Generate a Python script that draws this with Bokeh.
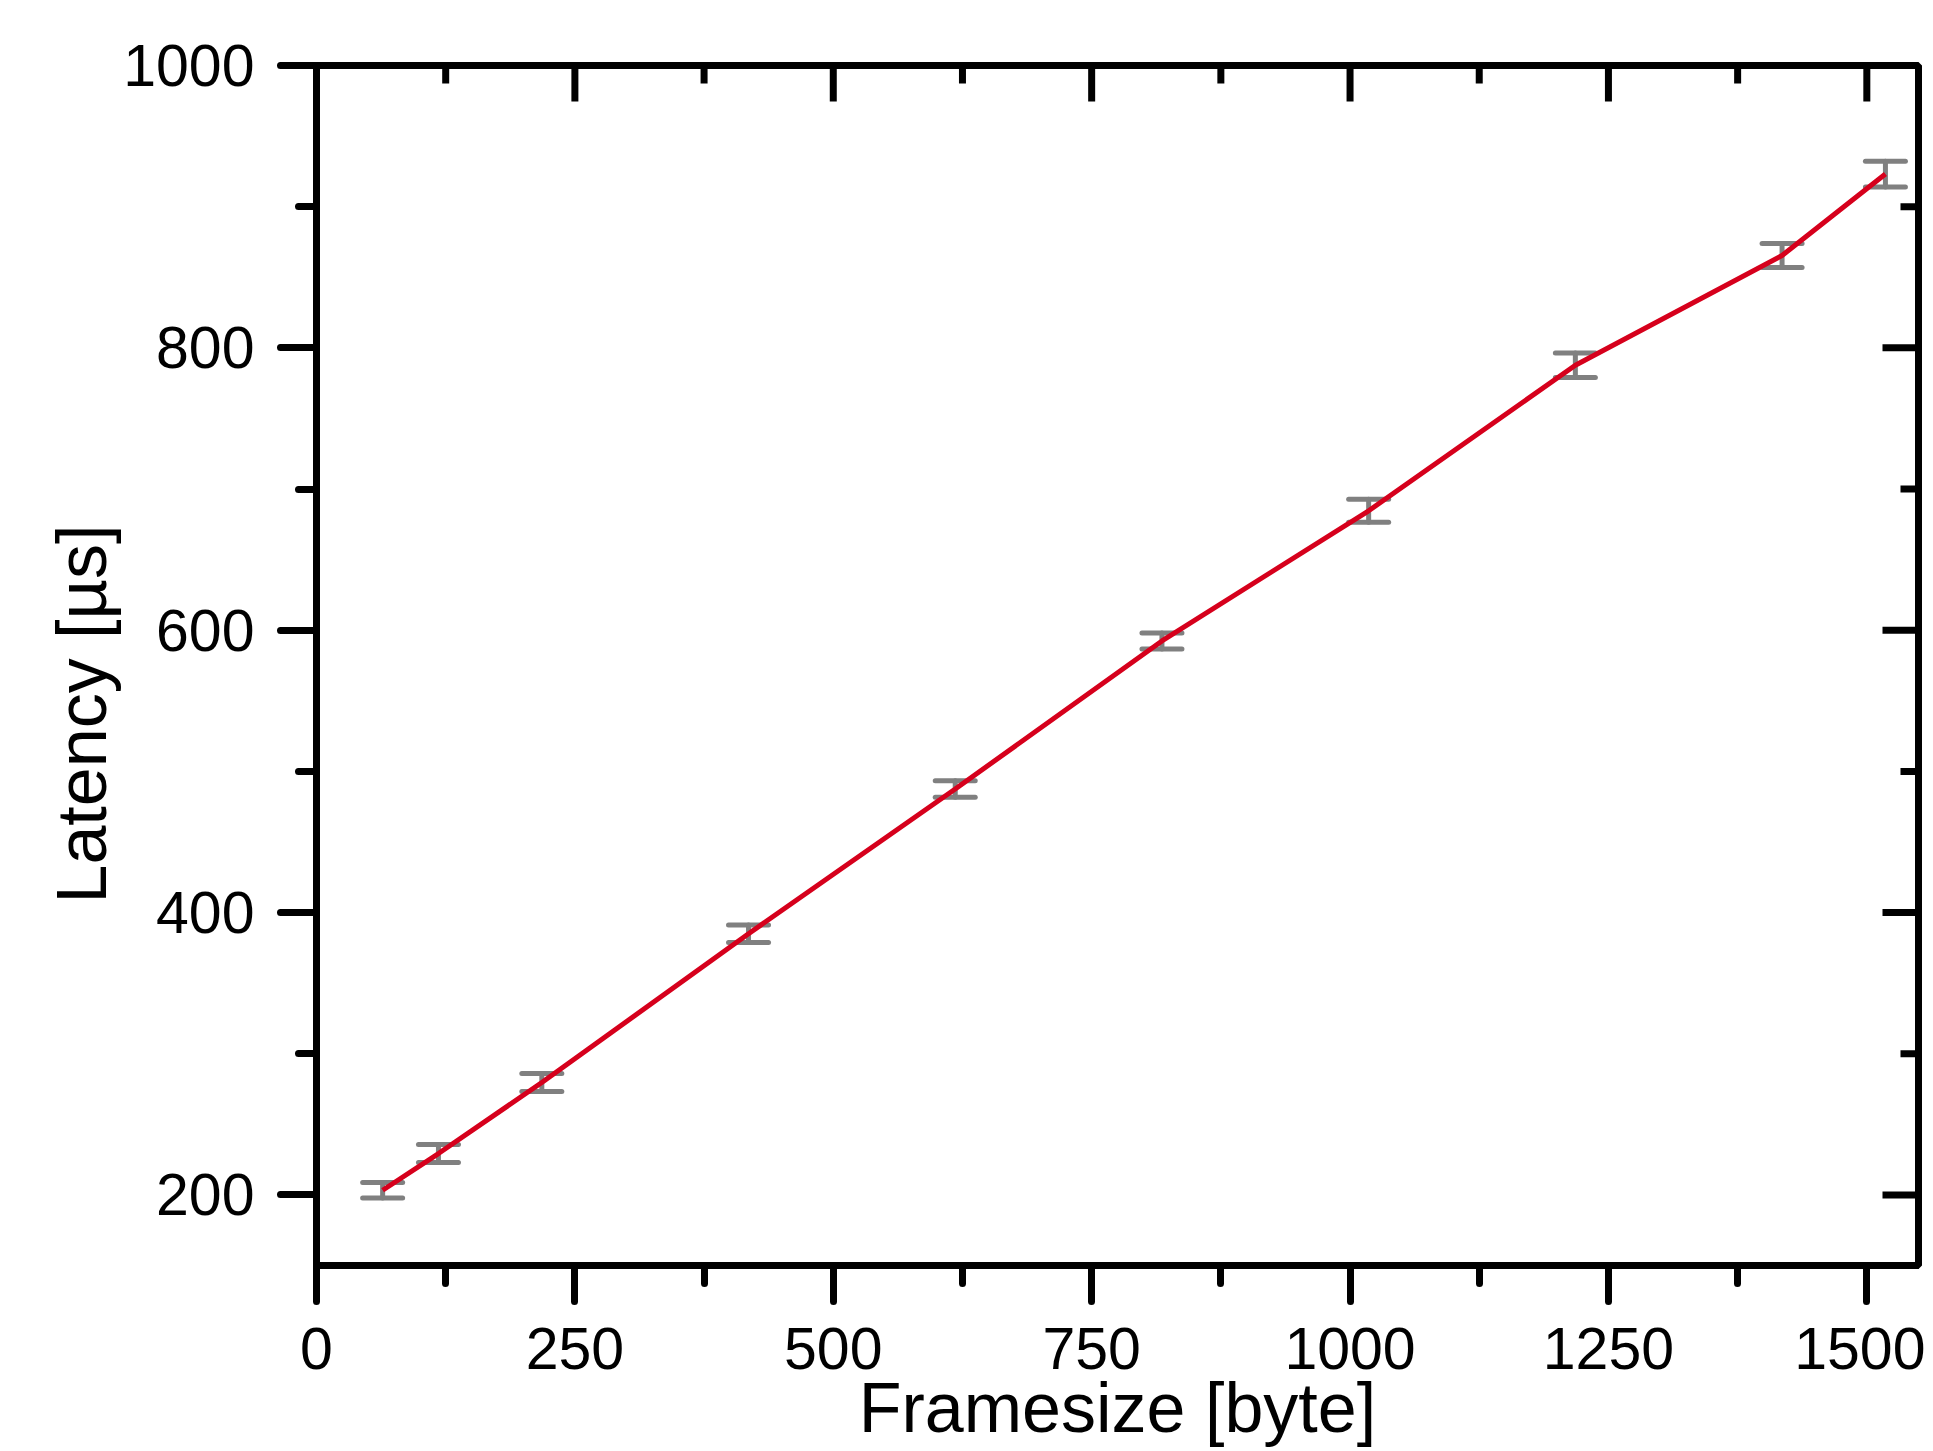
import math
from bokeh.plotting import figure
from bokeh.models import (ColumnDataSource, Whisker, TeeHead, FixedTicker, Range1d, Title)
from bokeh.embed import file_html
from bokeh.resources import INLINE

# ---- data ----
framesize = [64, 118, 218, 418, 618, 818, 1018, 1218, 1418, 1518]
latency = [203.3, 229.3, 279.6, 385.0, 487.5, 592.4, 684.6, 787.7, 865.4, 923.1]
error = [5.5, 6.4, 6.4, 6.2, 5.9, 5.7, 8.1, 8.7, 8.5, 9.1]
x_major = [0, 250, 500, 750, 1000, 1250, 1500]
x_minor = [125, 375, 625, 875, 1125, 1375]
y_major = [200, 400, 600, 800, 1000]
y_minor = [300, 500, 700, 900]
x_title = "Framesize [byte]"
y_title = "Latency [\u00b5s]"

X0, X1 = 0, 1550
Y0, Y1 = 150, 1000

upper = [l + e for l, e in zip(latency, error)]
lower = [l - e for l, e in zip(latency, error)]
src = ColumnDataSource(dict(x=framesize, y=latency, upper=upper, lower=lower))

FONT = "Liberation Sans"
AX_W = 7

p = figure(width=1925, height=1451, output_backend="svg", toolbar_location=None,
           x_range=Range1d(X0, X1), y_range=Range1d(Y0, Y1),
           min_border_left=316, min_border_right=7, min_border_top=65,
           min_border_bottom=186)
p.outline_line_color = "black"
p.outline_line_width = AX_W
p.xgrid.visible = False
p.ygrid.visible = False

p.xaxis.ticker = FixedTicker(ticks=x_major, minor_ticks=x_minor)
p.yaxis.ticker = FixedTicker(ticks=y_major, minor_ticks=y_minor)
for ax in (p.xaxis[0], p.yaxis[0]):
    ax.axis_line_width = AX_W
    ax.axis_line_color = "black"
    ax.major_tick_line_width = AX_W
    ax.minor_tick_line_width = AX_W
    ax.major_tick_line_cap = "round"
    ax.minor_tick_line_cap = "round"
    ax.major_tick_line_color = "black"
    ax.minor_tick_line_color = "black"
    ax.major_tick_out = 36
    ax.major_tick_in = 0
    ax.minor_tick_out = 18
    ax.minor_tick_in = 0
    ax.major_label_text_font = FONT
    ax.major_label_text_font_size = "59px"
    ax.major_label_text_color = "black"
    ax.axis_label_text_font = FONT
    ax.axis_label_text_font_size = "70px"
    ax.axis_label_text_font_style = "normal"
    ax.axis_label_text_color = "black"
p.xaxis.axis_label = x_title
p.xaxis.major_label_standoff = 26
p.yaxis.major_label_standoff = 26
p.xaxis.axis_label_standoff = -3

# y title placed on the left, starting from the lower part of the axis as in the reference
ytitle = Title(text=y_title, align="left", offset=362, text_font=FONT,
               text_font_size="70px", text_font_style="normal", text_color="black")
try:
    ytitle.standoff = 0
except Exception:
    pass
p.add_layout(ytitle, "left")

# inward mirrored ticks on top and right (dash markers centred on the frame edge,
# outer half clipped by the frame)
p.scatter(x_major, [Y1] * len(x_major), marker="dash", angle=math.pi / 2, size=72,
          line_color="black", line_width=AX_W)
p.scatter(x_minor, [Y1] * len(x_minor), marker="dash", angle=math.pi / 2, size=36,
          line_color="black", line_width=AX_W)
p.scatter([X1] * len(y_major), y_major, marker="dash", size=72,
          line_color="black", line_width=AX_W)
p.scatter([X1] * len(y_minor), y_minor, marker="dash", size=36,
          line_color="black", line_width=AX_W)

GRAY = "#808080"
wh = Whisker(base="x", upper="upper", lower="lower", source=src,
             line_color=GRAY, line_width=5, line_cap="round",
             upper_head=TeeHead(size=40, line_color=GRAY, line_width=5, line_cap="round"),
             lower_head=TeeHead(size=40, line_color=GRAY, line_width=5, line_cap="round"))
p.add_layout(wh)

p.line("x", "y", source=src, line_color="#D6001C", line_width=5)

open("out.html", "w").write(file_html(p, INLINE))
